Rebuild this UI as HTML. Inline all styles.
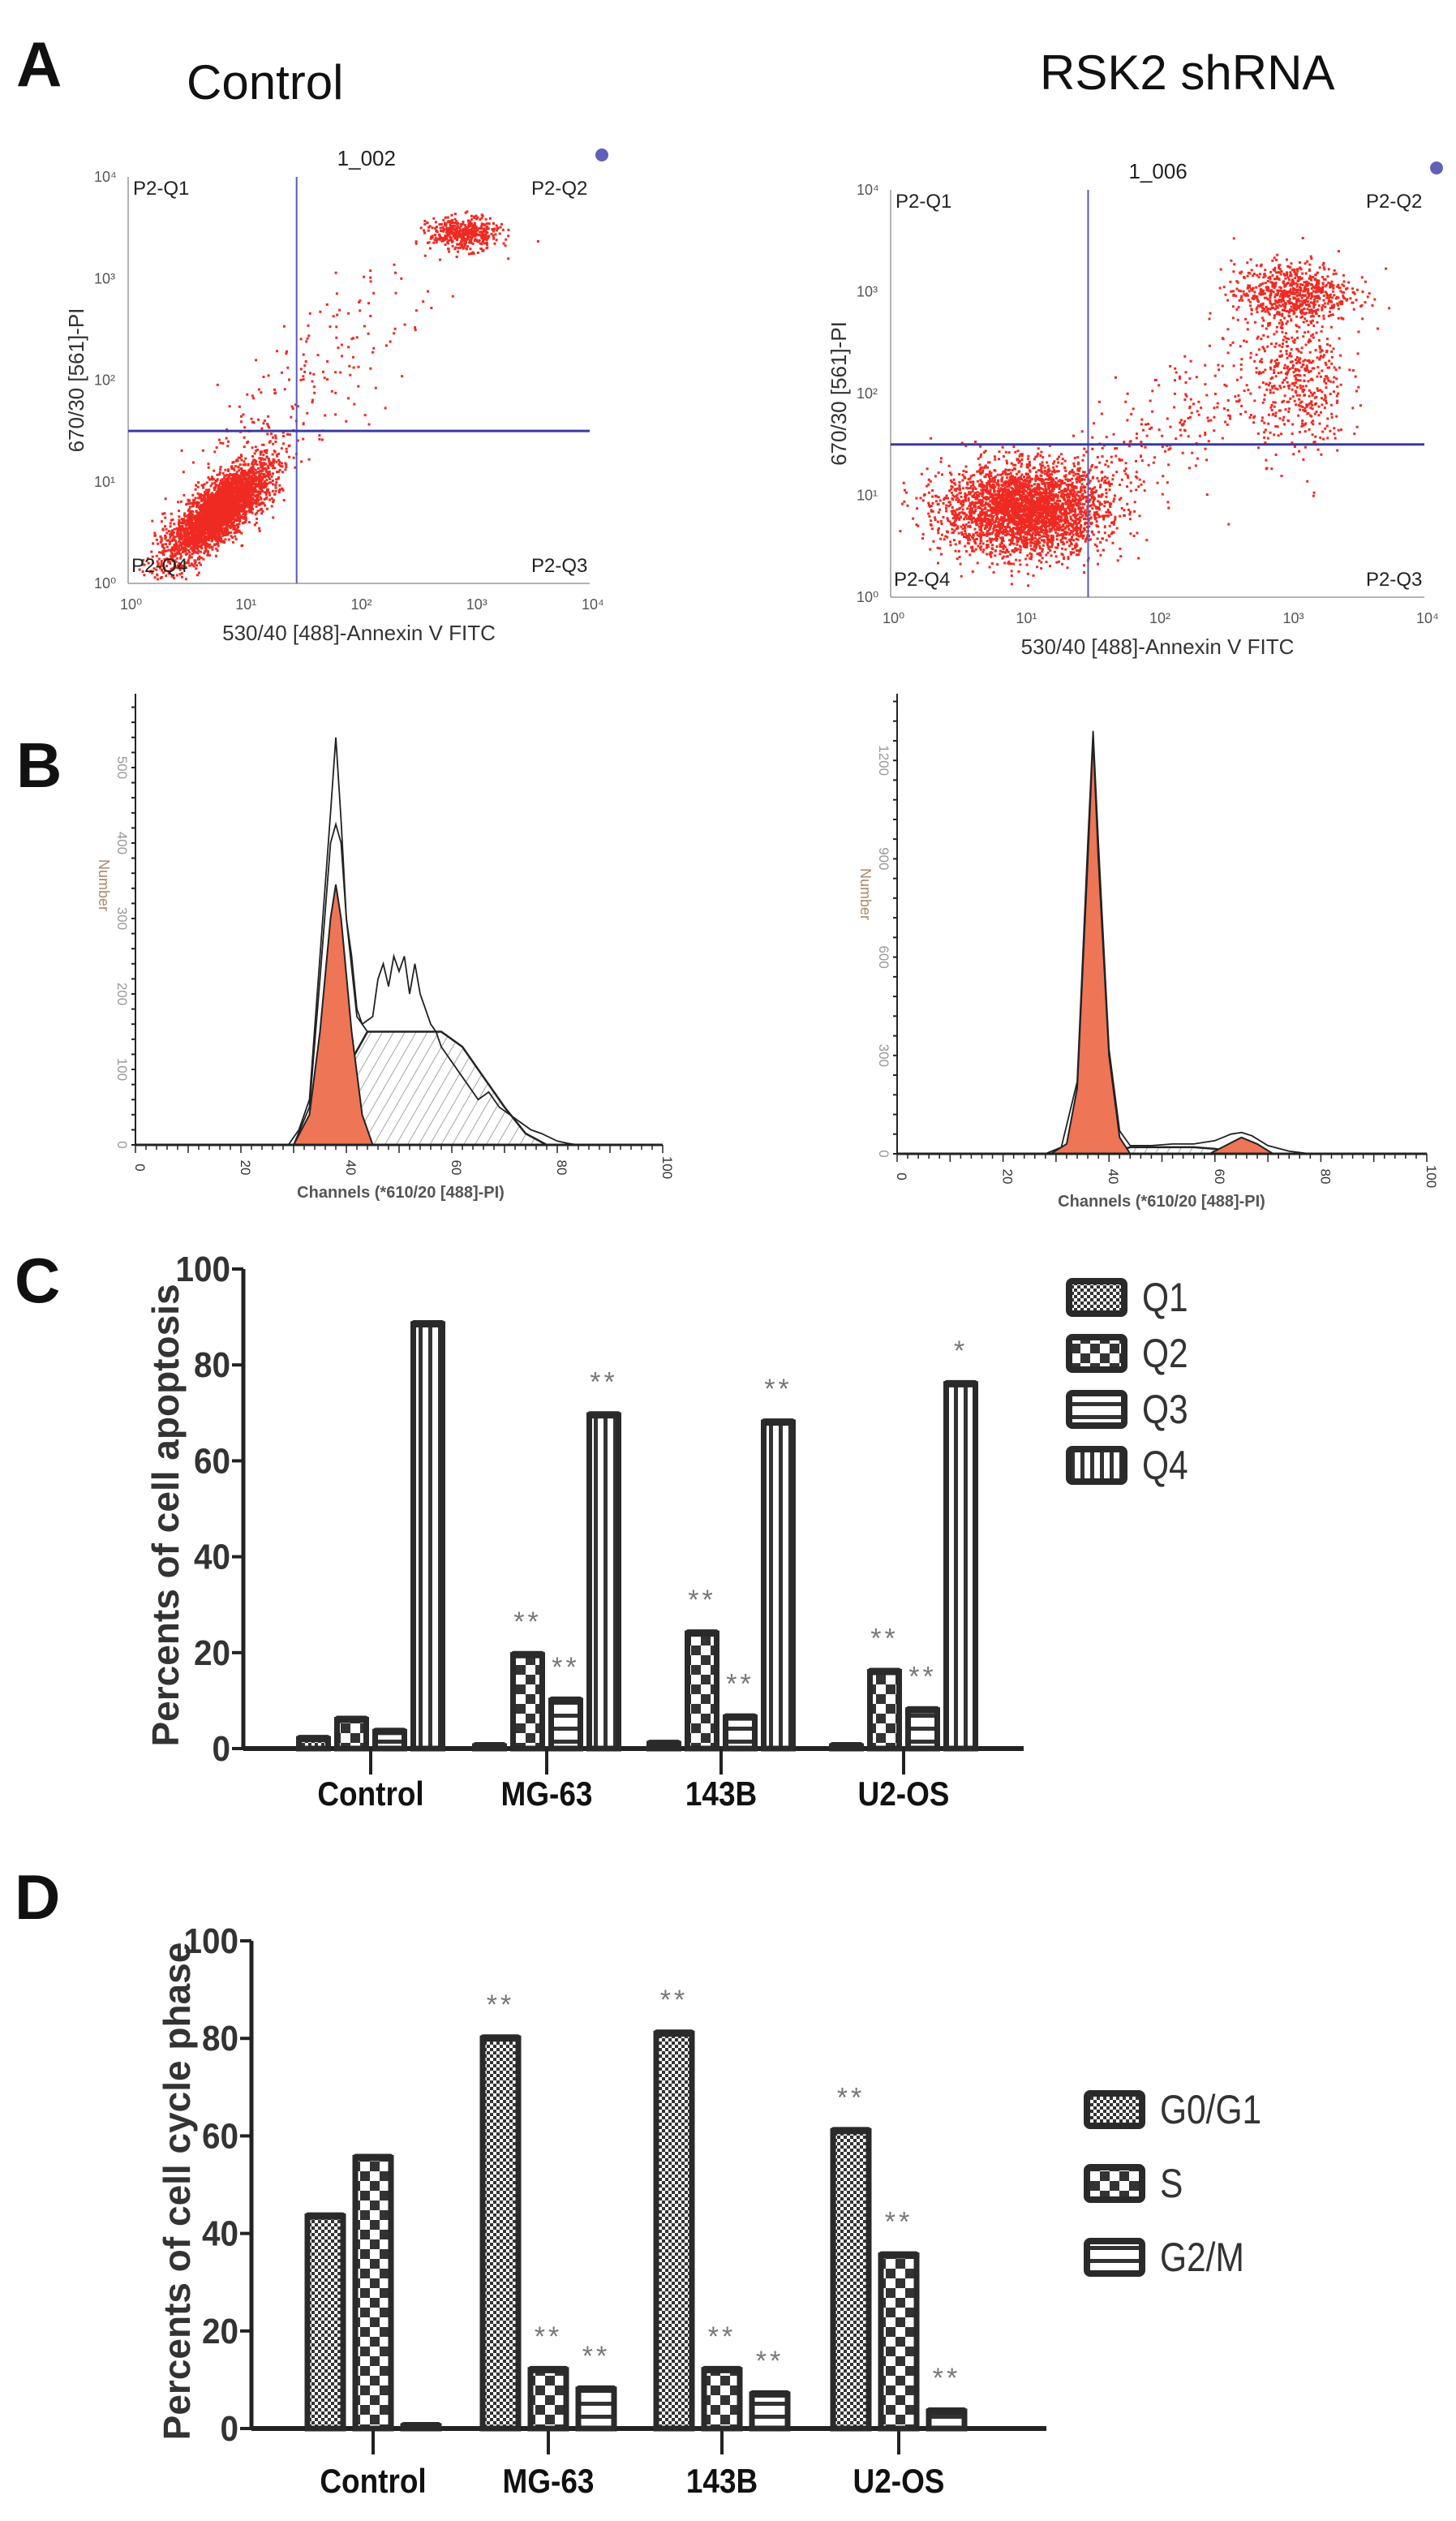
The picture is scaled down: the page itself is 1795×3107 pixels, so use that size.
<!DOCTYPE html>
<html><head><meta charset="utf-8"><style>
html,body{margin:0;padding:0;background:#fff}
svg{display:block}
.nar{font-family:"Liberation Sans Narrow","Liberation Sans",sans-serif}
.sans{font-family:"Liberation Sans",sans-serif}
</style></head><body>
<svg id="fig" xmlns="http://www.w3.org/2000/svg" width="1795" height="3107" viewBox="0 0 1795 3107">
<defs>
<pattern id="pQ1" width="8" height="8" patternUnits="userSpaceOnUse"><rect width="8" height="8" fill="#fff"/><rect width="4" height="4" fill="#333"/><rect x="4" y="4" width="4" height="4" fill="#333"/></pattern>
<pattern id="pQ2" width="24" height="24" patternUnits="userSpaceOnUse"><rect width="24" height="24" fill="#fff"/><rect width="12" height="12" fill="#333"/><rect x="12" y="12" width="12" height="12" fill="#333"/></pattern>
<pattern id="pQ3" width="10" height="16" patternUnits="userSpaceOnUse"><rect width="10" height="16" fill="#fff"/><rect width="10" height="5" fill="#333"/></pattern>
<pattern id="pQ4" width="12" height="10" patternUnits="userSpaceOnUse"><rect width="12" height="10" fill="#fff"/><rect width="5" height="10" fill="#333"/></pattern>
<pattern id="hatch" width="12" height="12" patternUnits="userSpaceOnUse" patternTransform="rotate(30)"><line x1="0" y1="0" x2="0" y2="12" stroke="#888" stroke-width="1.5"/></pattern>
</defs>
<g id="panelA"></g>
<g id="panelB"></g>
<g id="panelC"></g>
<g id="panelD"></g>
</svg>
<script>
// ---- Panel C data ----
const cCategories = ["Control","MG-63","143B","U2-OS"];
const cSeries = ["Q1","Q2","Q3","Q4"];
const cQ1 = [2, 0.5, 1, 0.5];
const cQ2 = [6, 19.5, 24, 16];
const cQ3 = [3.5, 10, 6.5, 8];
const cQ4 = [88.5, 69.5, 68, 76];
const cStars = [["","","",""],["","**","**","**"],["","**","**","**"],["","**","**","*"]];
const cTicks = [0,20,40,60,80,100];
// ---- Panel D data ----
const dCategories = ["Control","MG-63","143B","U2-OS"];
const dSeries = ["G0/G1","S","G2/M"];
const dG1 = [43.5, 80, 81, 61];
const dS = [55.5, 12, 12, 35.5];
const dG2 = [0.5, 8, 7, 3.5];
const dStars = [["","",""],["**","**","**"],["**","**","**"],["**","**","**"]];
const dTicks = [0,20,40,60,80,100];
// ---- Panel B histogram data (channel, count) ----
const bLeftG1 = [[30,0],[33,40],[35,150],[37,300],[38,345],[39,300],[41,150],[43,40],[45,0]];
const bLeftS = [[32,0],[36,40],[40,100],[44,150],[58,150],[62,130],[66,90],[70,50],[74,15],[78,0]];
const bLeftOut1 = [[29,0],[31,20],[33,60],[35,250],[37,440],[38,540],[39,430],[40,300],[41,250],[42,180],[43,160],[45,170],[46,220],[47,240],[48,210],[49,250],[50,230],[51,250],[52,200],[53,240],[54,200],[55,180],[56,160],[57,150],[58,130],[60,110],[62,90],[64,70],[65,60],[67,70],[69,50],[71,40],[73,30],[75,20],[77,15],[80,5],[82,2],[84,0]];
const bLeftOut2 = [[30,0],[33,50],[35,220],[37,400],[38,425],[39,400],[40,300],[42,170],[44,150]];
const bRightG1 = [[29,0],[32,30],[34,200],[36,900],[37,1270],[38,900],[40,300],[42,50],[44,0]];
const bRightOut = [[28,0],[31,20],[34,220],[36,950],[37,1290],[38,950],[40,320],[42,70],[44,25],[48,25],[52,30],[56,30],[60,40],[63,60],[65,65],[67,55],[70,25],[74,8],[78,0]];
const bRightG2 = [[59,0],[62,25],[65,50],[68,30],[71,0]];
const bRightS = [[40,0],[44,20],[56,20],[60,15],[64,5],[68,0]];
const bLeftTicks = [0,100,200,300,400,500];
const bRightTicks = [0,300,600,900,1200];
const bXTicks = [0,20,40,60,80,100];

const NS="http://www.w3.org/2000/svg";
function mk(parent,tag,attrs,text){const e=document.createElementNS(NS,tag);for(const k in attrs)e.setAttribute(k,attrs[k]);if(text!==undefined)e.textContent=text;parent.appendChild(e);return e;}

// ===== Panel A =====
(function(){
const g=document.getElementById('panelA');
let t;
t=mk(g,'text',{x:20,y:106,'font-size':78,'font-weight':'bold',class:'sans',fill:'#111'},'A');

t=mk(g,'text',{x:230,y:122,'font-size':60,class:'sans',fill:'#111'},'Control');

t=mk(g,'text',{x:1282,y:110,'font-size':60,class:'sans',fill:'#111'},'RSK2 shRNA');

let seed=12345;function rnd(){seed=(seed*1103515245+12345)%2147483648;return seed/2147483648;}
function gauss(){let u=rnd()||1e-6,v=rnd();return Math.sqrt(-2*Math.log(u))*Math.cos(2*Math.PI*v);}
function plot(x0,x1,y0,y1,qx,qy,name,label,clusters,dot){
  const pg=mk(g,'g',{});
  
  const sx=l=>x0+l/4*(x1-x0), sy=l=>y1-l/4*(y1-y0);
  mk(pg,'line',{x1:x0,y1:y0,x2:x0,y2:y1,stroke:'#999','stroke-width':1.5});
  mk(pg,'line',{x1:x0,y1:y1,x2:x1,y2:y1,stroke:'#999','stroke-width':1.5});
  for(let i=0;i<=4;i++){
    mk(pg,'text',{x:sx(i)-10,y:y1+32,'font-size':18,class:'nar',fill:'#555'},'10'+['⁰','¹','²','³','⁴'][i]);
    mk(pg,'text',{x:x0-42,y:sy(i)+6,'font-size':18,class:'nar',fill:'#555'},'10'+['⁰','¹','²','³','⁴'][i]);
  }
  let d='';
  clusters.forEach(c=>{for(let i=0;i<c.n;i++){let a=gauss(),b=gauss();let lx=c.x+a*c.sx+b*(c.r||0),ly=c.y+b*c.sy+a*(c.r||0);
    if(lx<0.05||lx>3.95||ly<0.05||ly>3.95)continue;d+='M'+sx(lx).toFixed(1)+' '+sy(ly).toFixed(1)+'h3v3h-3z';}});
  mk(pg,'path',{d:d,fill:'#ee2a22'});
  const vl=mk(pg,'line',{x1:sx(qx),y1:y0,x2:sx(qx),y2:y1,stroke:'#5a5ab8','stroke-width':2});
  
  const hl=mk(pg,'line',{x1:x0,y1:sy(qy),x2:x1,y2:sy(qy),stroke:'#3a3aa0','stroke-width':3});
  
  mk(pg,'text',{x:x0+6,y:y0+22,'font-size':24,class:'nar',fill:'#222'},'P2-Q1');
  mk(pg,'text',{x:x1-72,y:y0+22,'font-size':24,class:'nar',fill:'#222'},'P2-Q2');
  mk(pg,'text',{x:x0+4,y:y1-14,'font-size':24,class:'nar',fill:'#222'},'P2-Q4');
  mk(pg,'text',{x:x1-72,y:y1-14,'font-size':24,class:'nar',fill:'#222'},'P2-Q3');
  mk(pg,'text',{x:sx(qx)+50,y:y0-14,'font-size':26,class:'nar',fill:'#222'},label);
  mk(pg,'circle',{cx:dot[0],cy:dot[1],r:8,fill:'#3838a8',opacity:0.8});
  mk(pg,'text',{x:(x0+x1)/2,y:y1+70,'font-size':26,class:'nar',fill:'#333','text-anchor':'middle'},'530/40 [488]-Annexin V FITC');
  mk(pg,'text',{x:0,y:0,'font-size':26,class:'sans',fill:'#333','text-anchor':'middle',transform:'translate('+(x0-55)+','+((y0+y1)/2)+') rotate(-90)'},'670/30 [561]-PI');
}
plot(158,727,218,719,1.46,1.5,'scatter-control','1_002',
 [{n:3200,x:0.78,y:0.72,sx:0.2,sy:0.22,r:0.1},{n:450,x:2.9,y:3.45,sx:0.15,sy:0.08},{n:220,x:1.5,y:1.9,sx:0.5,sy:0.6,r:0.3}],[742,191]);
plot(1098,1756,234,736,1.48,1.5,'scatter-rsk2','1_006',
 [{n:3200,x:1.0,y:0.87,sx:0.3,sy:0.22},{n:700,x:3.0,y:3.0,sx:0.22,sy:0.15},{n:450,x:3.05,y:2.1,sx:0.18,sy:0.35},{n:300,x:2.0,y:1.6,sx:0.5,sy:0.5,r:0.25}],[1771,207]);
})();

// ===== Panel B =====
(function(){
const g=document.getElementById('panelB');
let t=mk(g,'text',{x:20,y:970,'font-size':78,'font-weight':'bold',class:'sans',fill:'#111'},'B');

function hist(name,x0,perCh,base,perUnit,top,ticks,fills,outs,hatched,axisX){
  const hg=mk(g,'g',{});
  
  const sx=c=>x0+c*perCh, sy=v=>base-v*perUnit;
  const poly=pts=>pts.map(p=>sx(p[0]).toFixed(1)+','+sy(p[1]).toFixed(1)).join(' ');
  hatched.forEach(h=>mk(hg,'polygon',{points:poly(h),fill:'url(#hatch)',stroke:'#222','stroke-width':2.5}));
  fills.forEach(f=>mk(hg,'polygon',{points:poly(f),fill:'#ee7556',stroke:'#222','stroke-width':2}));
  outs.forEach(o=>mk(hg,'polyline',{points:poly(o),fill:'none',stroke:'#222','stroke-width':1.8}));
  mk(hg,'line',{x1:x0,y1:top,x2:x0,y2:base,stroke:'#222','stroke-width':2});
  mk(hg,'line',{x1:x0,y1:base,x2:sx(100),y2:base,stroke:'#222','stroke-width':3});
  for(let c=0;c<=100;c+=2) mk(hg,'line',{x1:sx(c),y1:base,x2:sx(c),y2:base+(c%10?6:10),stroke:'#222','stroke-width':1.5});
  bXTicks.forEach(c=>mk(hg,'text',{x:0,y:0,'font-size':17,class:'nar',fill:'#333','text-anchor':'middle',transform:'translate('+sx(c)+','+(base+28)+') rotate(90)'},String(c)));
  const step=(ticks[1]-ticks[0])/5;
  for(let v=0;sy(v)>=top;v+=step) mk(hg,'line',{x1:x0-5,y1:sy(v),x2:x0,y2:sy(v),stroke:'#222','stroke-width':2});
  ticks.forEach(v=>mk(hg,'text',{x:0,y:0,'font-size':17,class:'nar',fill:'#999','text-anchor':'middle',transform:'translate('+(x0-22)+','+sy(v)+') rotate(90)'},String(v)));
  mk(hg,'text',{x:0,y:0,'font-size':18,class:'sans',fill:'#aa8866','text-anchor':'middle',transform:'translate('+(x0-45)+','+(base-320)+') rotate(90)'},'Number');
  mk(hg,'text',{x:axisX,y:base+65,'font-size':20,'font-weight':'bold',class:'nar',fill:'#555','text-anchor':'middle'},"Channels (*610/20 [488]-PI)");
}
hist('histogram-control',167,6.5,1411,0.93,855,bLeftTicks,[bLeftG1],[bLeftOut1,bLeftOut2],[bLeftS],494);
hist('histogram-rsk2',1106,6.53,1422,0.404,855,bRightTicks,[bRightG1,bRightG2],[bRightOut],[bRightS],1432);
})();

// ===== Bar charts =====
function barChart(gid,letter,letterY,ax,top,bottom,axEnd,centers,pitch,bw,seriesArr,pats,names,stars,cats,ticks,ytitle,titleOff,legX,legY,legStep,catY){
  const g=document.getElementById(gid);
  let t=mk(g,'text',{x:18,y:letterY,'font-size':78,'font-weight':'bold',class:'sans',fill:'#111'},letter);
  
  const sy=v=>bottom-v/100*(bottom-top);
  const n=seriesArr.length;
  const ya=mk(g,'line',{x1:ax,y1:top,x2:ax,y2:bottom+2,stroke:'#222','stroke-width':5});
  
  const xa=mk(g,'line',{x1:ax,y1:bottom,x2:axEnd,y2:bottom,stroke:'#222','stroke-width':6});
  
  ticks.forEach(v=>{mk(g,'line',{x1:ax-14,y1:sy(v),x2:ax,y2:sy(v),stroke:'#222','stroke-width':4});
    const tl=mk(g,'text',{x:0,y:0,transform:'translate('+(ax-16)+','+(sy(v)+15)+') scale(0.92,1)','font-size':44,'font-weight':'bold',class:'nar',fill:'#333','text-anchor':'end'},String(v));
    });
  cats.forEach((c,ci)=>{
    const cx=centers[ci];
    mk(g,'line',{x1:cx,y1:bottom,x2:cx,y2:bottom+32,stroke:'#222','stroke-width':4});
    const cl=mk(g,'text',{x:0,y:0,transform:'translate('+cx+','+catY+') scale(0.88,1)','font-size':42,'font-weight':'bold',class:'nar',fill:'#111','text-anchor':'middle'},c);
    
    seriesArr.forEach((arr,si)=>{
      const v=arr[ci];const bx=cx+(si-(n-1)/2)*pitch-bw/2;const y=sy(v);
      const r=mk(g,'rect',{x:bx,y:y,width:bw,height:bottom-y,fill:'url(#'+pats[si]+')',stroke:'#2a2a2a','stroke-width':7});
      
      
      mk(g,'rect',{x:bx-3,y:y-5,width:bw+6,height:9,rx:4,fill:'#2a2a2a'});
      if(stars[ci][si]){const st=mk(g,'text',{x:bx+bw/2,y:y-30,'font-size':34,class:'sans',fill:'#777','text-anchor':'middle','letter-spacing':4},stars[ci][si]);
        }
    });
  });
  const yt=mk(g,'text',{x:0,y:0,'font-size':46,'font-weight':'bold',class:'sans',fill:'#333','text-anchor':'middle',transform:'translate('+(ax-titleOff)+','+((top+bottom)/2+8)+') rotate(-90)'},ytitle);
  
  names.forEach((nm,i)=>{
    const lg=mk(g,'g',{});
    
    const y=legY+i*legStep;
    mk(lg,'rect',{x:legX,y:y-20,width:68,height:40,rx:4,fill:'url(#'+pats[i]+')',stroke:'#2a2a2a','stroke-width':8});
    mk(lg,'text',{x:0,y:0,transform:'translate('+(legX+90)+','+(y+17)+') scale(0.85,1)','font-size':50,class:'nar',fill:'#333'},nm);
  });
}
barChart('panelC','C',1605,300,1564,2155,1262,[457,674,889,1114],47,36,[cQ1,cQ2,cQ3,cQ4],['pQ1','pQ2','pQ3','pQ4'],cSeries,cStars,cCategories,cTicks,'Percents of cell apoptosis',80,1318,1599,69,2225);
barChart('panelD','D',2365,310,2392,2993,1290,[460,676,890,1108],59,44,[dG1,dS,dG2],['pQ1','pQ2','pQ3'],dSeries,dStars,dCategories,dTicks,'Percents of cell cycle phase',76,1340,2600,91,3072);
</script>
</body></html>
